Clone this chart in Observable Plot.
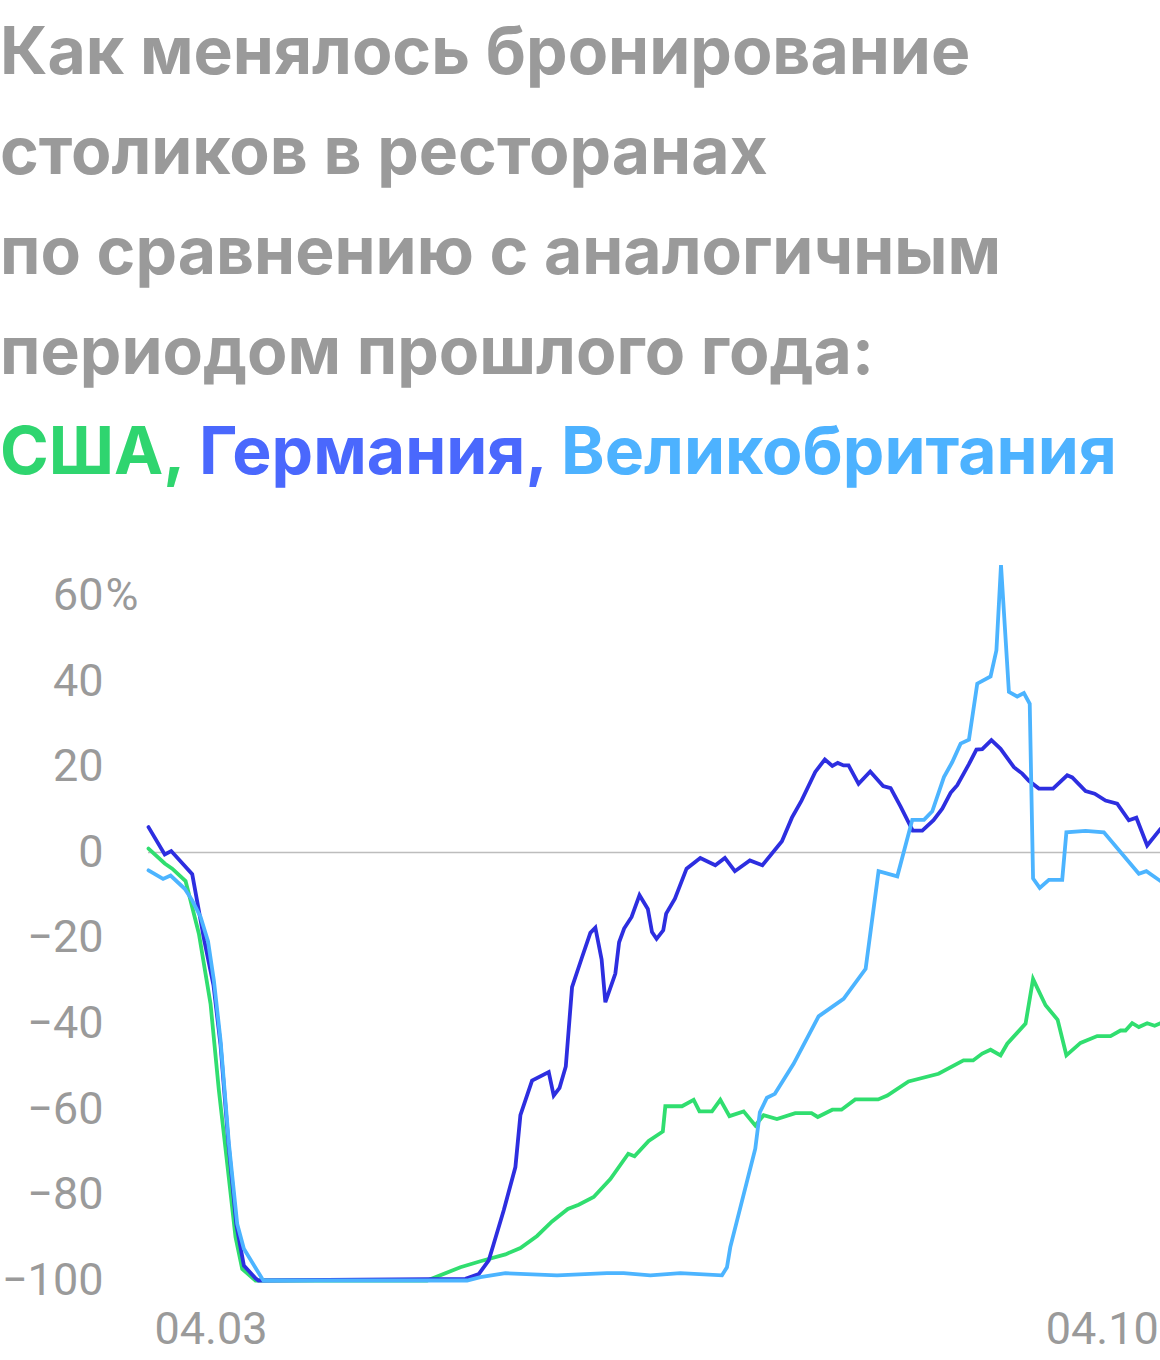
<!DOCTYPE html>
<html>
<head>
<meta charset="utf-8">
<script src="https://cdn.jsdelivr.net/npm/d3@7"></script>
<script src="https://cdn.jsdelivr.net/npm/@observablehq/plot@0.6"></script>
<style>
  html, body { margin: 0; padding: 0; background: #fff; }
  body { width: 1160px; overflow: hidden; }
  #title {
    font-family: Inter, "Noto Sans", sans-serif;
    font-weight: 700;
    font-size: 66px;
    line-height: 100px;
    color: #9a9a9a;
    margin: 0;
    padding: 0;
    white-space: nowrap;
  }
  #chart svg { display: block; overflow: visible; }
</style>
</head>
<body>
<div id="title"></div>
<div id="chart"></div>
<script>
// Title and legend text
const titleLines = [
  "Как менялось бронирование",
  "столиков в ресторанах",
  "по сравнению с аналогичным",
  "периодом прошлого года:"
];
const countries = ["США", "Германия", "Великобритания"];
const legendColors = ["#2fd56f", "#4a68fd", "#4db2ff"];
const lineColors = ["#30de6f", "#2d2ee0", "#4cb4ff"];

// x = days since 18.02.2020
const xTickDays = [15, 229];
const xTickLabels = ["04.03", "04.10"];
const yTicks = [-100, -80, -60, -40, -20, 0, 20, 40, 60];

// USA
const usaDay = [0, 3.9, 5.7, 8.9, 9.7, 12.1, 14.9, 16.9, 18.9, 20.9, 22.5, 25.7, 66.9, 74.9, 79.7, 85.7, 89.3, 93.3, 96.9, 100.7, 103.3, 106.9, 110.9, 115.2, 116.7, 120.1, 123.5, 124.1, 128.1, 130.9, 132.3, 135.3, 137.3, 139.5, 142.9, 145.7, 147.7, 150.9, 155.3, 159.2, 160.7, 164.2, 166.4, 169.7, 175.2, 177.4, 182.5, 189.7, 195.7, 198, 200.2, 202.2, 204.6, 206.2, 210.6, 212.4, 215.4, 218.3, 220.4, 223.8, 227.8, 231, 233.4, 234.6, 236.2, 237.8, 239.8, 241.6, 243];
const usaValue = [0.9, -2.6, -3.8, -6.7, -9.7, -19, -35.4, -55.6, -72.7, -89.9, -97.3, -100, -100, -96.9, -95.5, -93.9, -92.4, -89.6, -86.2, -83.3, -82.3, -80.5, -76.3, -70.4, -71, -67.4, -65.2, -59.3, -59.3, -57.8, -60.5, -60.5, -57.8, -61.6, -60.5, -63.8, -61.4, -62.3, -60.9, -60.9, -61.8, -60.1, -60.1, -57.7, -57.7, -56.8, -53.5, -51.7, -48.6, -48.6, -47, -46.1, -47.4, -44.7, -40, -29.6, -35.7, -39.1, -47.4, -44.5, -42.9, -42.9, -41.6, -41.6, -39.9, -40.8, -39.9, -40.5, -39.9];

// Germany
const deDay = [0, 3.9, 5.45, 10.5, 13.4, 15.6, 17.3, 19.2, 21.1, 22.9, 25.7, 26.4, 76.1, 79.3, 81.7, 82.9, 85.3, 88.1, 89.3, 92.1, 96.1, 97.3, 98.7, 100.2, 101.7, 104.1, 106.1, 107.3, 108.8, 109.7, 112.1, 113, 114.2, 116, 117.9, 119.9, 120.9, 122, 123.6, 124.3, 126.4, 129.2, 132.5, 136.1, 138.4, 140.8, 144.4, 147.4, 152.1, 154.5, 156.8, 160.1, 162.4, 164.2, 165.5, 166.9, 168.1, 170.5, 173.3, 176.4, 178.2, 180.6, 183.5, 185.8, 188.5, 190.6, 192.6, 194.2, 197, 198.8, 200.2, 202.4, 204.6, 207.8, 209.8, 211.4, 213.8, 217.2, 220.6, 221.8, 225, 227.2, 229.8, 232.6, 235.4, 237.2, 239.8, 243];
const deValue = [5.9, -0.5, 0.3, -5.1, -20.6, -31, -45, -68, -87, -96.5, -99.5, -100, -99.6, -98.5, -95.3, -91.4, -83.6, -73.5, -61.4, -53.3, -51.3, -56.8, -55, -50, -31.5, -24.5, -18.8, -17.6, -25, -35, -28.3, -21, -17.8, -15.1, -10, -13.2, -18.6, -20.2, -18.2, -14.3, -10.8, -3.8, -1.3, -3, -1.3, -4.4, -1.9, -3, 2.6, 8.1, 12.1, 18.8, 21.7, 20.2, 20.9, 20.3, 20.3, 16, 18.9, 15.5, 15, 10.7, 5.1, 5.1, 7.5, 10.2, 13.9, 15.7, 20.6, 24, 24.1, 26.2, 24.2, 19.9, 18.4, 16.7, 14.9, 14.9, 18, 17.5, 14.3, 13.7, 12.1, 11.4, 7.5, 8.1, 1.6, 5.5];

// United Kingdom
const ukDay = [0, 3.5, 5.3, 8.7, 10.5, 12.5, 14.3, 15.7, 17.3, 19.3, 21.3, 22.9, 27.3, 27.6, 76.5, 79.7, 85.7, 98.1, 110.1, 114.1, 120.5, 127.7, 137.7, 138.9, 139.7, 145.7, 146.8, 148.5, 150.4, 154.9, 160.9, 166.9, 172.2, 175.3, 179.8, 183.4, 186.2, 188.2, 191, 193, 195, 197, 199, 202.2, 203.6, 204.7, 206.6, 208.6, 210.2, 211.6, 212.4, 214, 216.2, 219.4, 220.4, 225, 229.4, 237.8, 239.6, 243];
const ukValue = [-4.2, -6.2, -5.4, -8.5, -11.2, -15.1, -20.8, -29.9, -43.9, -68, -86.8, -92.6, -99.6, -100, -100, -99.2, -98.3, -98.8, -98.3, -98.3, -98.8, -98.3, -98.8, -96.9, -92.2, -69.2, -60.7, -57.3, -56.4, -49.4, -38.3, -34.2, -27.2, -4.4, -5.6, 7.6, 7.6, 9.6, 17.6, 21.1, 25.4, 26.3, 39.4, 41.1, 47.2, 67.1, 37.5, 36.4, 37.2, 34.7, -6.1, -8.3, -6.4, -6.4, 4.7, 5, 4.7, -5, -4.4, -6.7];

// Title
const titleEl = document.getElementById("title");
titleEl.innerHTML = titleLines.join("<br>") + "<br>" +
  countries.map((c, i) => `<span style="color:${legendColors[i]}">${c}${i < countries.length - 1 ? "," : ""}</span>`).join(" ");

// Table
const series = [[usaDay, usaValue], [deDay, deValue], [ukDay, ukValue]];
const rows = [];
series.forEach(([ds, vs], i) => ds.forEach((d, j) => rows.push({country: countries[i], day: d, value: vs[j]})));

const fmt = d3.format("d");
const fs = 45;
const chart = Plot.plot({
  width: 1160,
  height: 860,
  marginLeft: 148,
  marginRight: 0,
  marginTop: 95,
  marginBottom: 80,
  x: {domain: [0, 243], axis: null, label: null},
  y: {domain: [-100, 60], axis: null, label: null},
  color: {domain: countries, range: lineColors},
  style: {fontFamily: "Roboto, sans-serif", fontSize: fs + "px", color: "#9a9a9a", background: "#fff", overflow: "visible"},
  marks: [
    Plot.ruleY([0], {stroke: "#bdbdbd", strokeWidth: 1.5}),
    Plot.axisY(yTicks, {tickSize: 0, tickPadding: 45, tickFormat: fmt, fontSize: fs, fill: "#9a9a9a", label: null}),
    Plot.text([60], {x: () => 0, y: d => d, text: () => "%", dx: -43, textAnchor: "start", fontSize: fs, fill: "#9a9a9a"}),
    Plot.axisX(xTickDays, {tickSize: 0, tickPadding: 32, tickFormat: (d, i) => xTickLabels[i], fontSize: fs, fill: "#9a9a9a", label: null}),
    Plot.line(rows, {x: "day", y: "value", z: "country", stroke: "country", strokeWidth: 3.8, strokeLinejoin: "miter", strokeMiterlimit: 4})
  ]
});
document.getElementById("chart").appendChild(chart);
</script>
</body>
</html>
